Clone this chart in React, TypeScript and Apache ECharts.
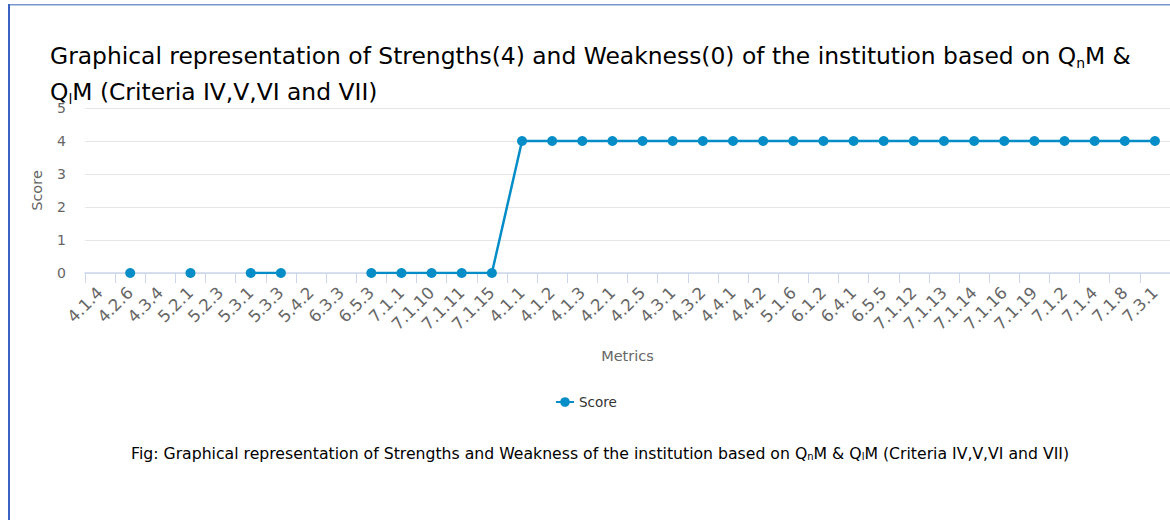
import React, { useEffect, useRef } from "react";
import * as echarts from "echarts";

const categories = [
  "4.1.4", "4.2.6", "4.3.4", "5.2.1", "5.2.3", "5.3.1", "5.3.3", "5.4.2", "6.3.3", "6.5.3",
  "7.1.1", "7.1.10", "7.1.11", "7.1.15", "4.1.1", "4.1.2", "4.1.3", "4.2.1", "4.2.5", "4.3.1",
  "4.3.2", "4.4.1", "4.4.2", "5.1.6", "6.1.2", "6.4.1", "6.5.5", "7.1.12", "7.1.13", "7.1.14",
  "7.1.16", "7.1.19", "7.1.2", "7.1.4", "7.1.8", "7.3.1",
];
const scores: (number | null)[] = [
  null, 0, null, 0, null, 0, 0, null, null, 0,
  0, 0, 0, 0, 4, 4, 4, 4, 4, 4,
  4, 4, 4, 4, 4, 4, 4, 4, 4, 4,
  4, 4, 4, 4, 4, 4,
];
const yTicks = [0, 1, 2, 3, 4, 5];
const seriesName = "Score";
const FONT = "'DejaVu Sans', sans-serif";

export default function App() {
  const ref = useRef<HTMLDivElement>(null);
  useEffect(() => {
    if (!ref.current) return;
    const chart = echarts.init(ref.current, null, { renderer: "svg" });
    chart.setOption({
      animation: false,
      backgroundColor: "#ffffff",
      title: {
        text:
          "{a|Graphical representation of Strengths(4) and Weakness(0) of the institution based on Q}{s|n}{a|M &}\n{a|Q}{s|l}{a|M (Criteria IV,V,VI and VII)}",
        left: 50,
        top: 38,
        padding: 0,
        textStyle: {
          fontWeight: "normal",
          rich: {
            a: { fontSize: 23.4, color: "#000", fontFamily: FONT, fontWeight: "normal", lineHeight: 36 },
            s: { fontSize: 14, color: "#000", fontFamily: FONT, fontWeight: "normal", lineHeight: 22, padding: [14, 0, 0, 0] },
          },
        },
      },
      graphic: [
        { type: "rect", shape: { x: 8, y: 4, width: 1162, height: 1.5 }, style: { fill: "#7b95cf" } },
        { type: "rect", shape: { x: 8, y: 4, width: 2, height: 516 }, style: { fill: "#3b63c4" } },
        {
          type: "text",
          left: 131,
          top: 445,
          style: {
            text:
              "{a|Fig: Graphical representation of Strengths and Weakness of the institution based on Q}{s|n}{a|M & Q}{s|l}{a|M (Criteria IV,V,VI and VII)}",
            rich: {
              a: { fontSize: 15.7, fill: "#000", fontFamily: FONT, lineHeight: 22 },
              s: { fontSize: 10, fill: "#000", fontFamily: FONT, lineHeight: 16, padding: [6, 0, 0, 0] },
            },
          },
        },
      ],
      legend: {
        data: [seriesName],
        left: 550,
        top: 390,
        itemWidth: 18,
        itemHeight: 12,
        itemGap: 10,
        textStyle: { fontSize: 13.5, color: "#333", fontFamily: FONT },
      },
      grid: { left: 85, width: 1091, top: 108, bottom: 247, containLabel: false },
      xAxis: {
        type: "category",
        data: categories,
        boundaryGap: true,
        name: "Metrics",
        nameLocation: "middle",
        nameGap: 75,
        nameTextStyle: { fontSize: 14.5, color: "#666", fontFamily: FONT },
        axisLine: { lineStyle: { color: "#ccd6eb", width: 1.5 } },
        axisTick: { show: true, length: 10, lineStyle: { color: "#ccd6eb" }, interval: 0 },
        axisLabel: { interval: 0, rotate: 45, fontSize: 16.5, color: "#666", fontFamily: FONT, margin: 17 },
        splitLine: { show: false },
      },
      yAxis: {
        type: "value",
        min: yTicks[0],
        max: yTicks[yTicks.length - 1],
        interval: 1,
        name: "Score",
        nameLocation: "middle",
        nameGap: 41,
        nameTextStyle: { fontSize: 14.5, color: "#666", fontFamily: FONT },
        axisLine: { show: false },
        axisTick: { show: false },
        axisLabel: { fontSize: 14, color: "#666", fontFamily: FONT, margin: 19 },
        splitLine: { lineStyle: { color: "#e6e6e6", width: 1 } },
      },
      series: [
        {
          name: seriesName,
          type: "line",
          data: scores,
          symbol: "circle",
          symbolSize: 10,
          showSymbol: true,
          connectNulls: false,
          itemStyle: { color: "#058DC7" },
          lineStyle: { color: "#058DC7", width: 2.5 },
        },
      ],
    });
    return () => chart.dispose();
  }, []);
  return (
    <div
      ref={ref}
      style={{ position: "fixed", left: 0, top: 0, width: 1170, height: 520 }}
    />
  );
}
